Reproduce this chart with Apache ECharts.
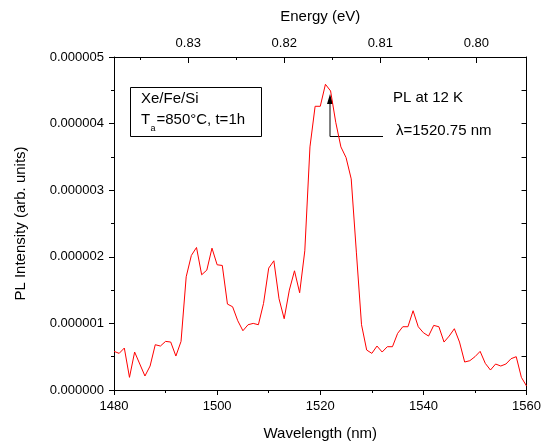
<!DOCTYPE html>
<html>
<head>
<meta charset="utf-8">
<script src="https://cdn.jsdelivr.net/npm/echarts@6/dist/echarts.min.js"></script>
<style>html,body{margin:0;padding:0;background:#fff}#c{width:544px;height:446px}</style>
</head>
<body>
<div id="c"></div>
<script>
const wavelengths = [];
for (let w = 1480; w <= 1560; w++) wavelengths.push(w);
const intensity = [
  0.58e-6, 0.55e-6, 0.63e-6, 0.19e-6, 0.57e-6, 0.39e-6, 0.21e-6, 0.36e-6, 0.68e-6, 0.66e-6,
  0.73e-6, 0.72e-6, 0.51e-6, 0.73e-6, 1.70e-6, 2.02e-6, 2.14e-6, 1.73e-6, 1.80e-6, 2.13e-6,
  1.88e-6, 1.87e-6, 1.29e-6, 1.25e-6, 1.04e-6, 0.89e-6, 0.98e-6, 1.00e-6, 0.98e-6, 1.30e-6,
  1.83e-6, 1.94e-6, 1.37e-6, 1.07e-6, 1.50e-6, 1.79e-6, 1.46e-6, 2.09e-6, 3.65e-6, 4.26e-6,
  4.26e-6, 4.59e-6, 4.49e-6, 4.02e-6, 3.65e-6, 3.49e-6, 3.17e-6, 2.07e-6, 0.98e-6, 0.60e-6,
  0.55e-6, 0.66e-6, 0.57e-6, 0.65e-6, 0.65e-6, 0.85e-6, 0.95e-6, 0.95e-6, 1.19e-6, 0.95e-6,
  0.86e-6, 0.81e-6, 0.97e-6, 0.95e-6, 0.72e-6, 0.81e-6, 0.92e-6, 0.72e-6, 0.42e-6, 0.44e-6,
  0.50e-6, 0.58e-6, 0.40e-6, 0.30e-6, 0.39e-6, 0.36e-6, 0.39e-6, 0.47e-6, 0.50e-6, 0.19e-6,
  0.06e-6
];
const energyMajorTicks = [0.83, 0.82, 0.81, 0.80];
const energyMinorTicks = [0.835, 0.825, 0.815, 0.805];
const HC = 1239.84;
const energyMin = HC / 1560;
const energyMax = HC / 1480;

const FONT = '"Liberation Sans", Arial, sans-serif';
const black = '#000';
const chart = echarts.init(document.getElementById('c'), null, {renderer: 'canvas'});
const lineStyle = {color: black, width: 1};

const annotations = [
  {type: 'rect', shape: {x: 130.5, y: 87.5, width: 131, height: 49},
    style: {fill: 'none', stroke: black, lineWidth: 1}},
  {type: 'text', x: 141, y: 99, style: {text: 'Xe/Fe/Si', font: '15px ' + FONT, fill: black, textVerticalAlign: 'middle'}},
  {type: 'text', x: 141, y: 120, style: {text: 'T', font: '15px ' + FONT, fill: black, textVerticalAlign: 'middle'}},
  {type: 'text', x: 150.5, y: 129, style: {text: 'a', font: '9px ' + FONT, fill: black, textVerticalAlign: 'middle'}},
  {type: 'text', x: 156.5, y: 120, style: {text: '=850°C, t=1h', font: '15px ' + FONT, fill: black, textVerticalAlign: 'middle'}},
  {type: 'text', x: 393, y: 98, style: {text: 'PL at 12 K', font: '15px ' + FONT, fill: black, textVerticalAlign: 'middle'}},
  {type: 'text', x: 396, y: 131, style: {text: 'λ=1520.75 nm', font: '15px ' + FONT, fill: black, textVerticalAlign: 'middle'}},
  {type: 'polyline', shape: {points: [[330, 103], [330, 136.5], [383, 136.5]]},
    style: {stroke: black, lineWidth: 1, fill: 'none'}},
  {type: 'polygon', shape: {points: [[330, 94], [327, 104], [333, 104]]},
    style: {fill: black, stroke: 'none'}}
];

chart.setOption({
  animation: false,
  backgroundColor: '#fff',
  grid: {left: 114, right: 14, top: 57, bottom: 52, containLabel: false},
  xAxis: [
    {
      type: 'value', position: 'bottom', min: 1480, max: 1560, interval: 20,
      name: 'Wavelength (nm)', nameLocation: 'middle', nameGap: 36,
      nameTextStyle: {fontFamily: FONT, fontSize: 15, color: black},
      axisLine: {show: true, onZero: false, lineStyle},
      axisTick: {show: true, inside: false, length: 5, lineStyle},
      minorTick: {show: true, splitNumber: 2, length: 3, lineStyle},
      axisLabel: {fontFamily: FONT, fontSize: 13, color: black, margin: 10,
        formatter: v => String(v)},
      splitLine: {show: false}
    },
    {
      type: 'value', position: 'top', min: energyMin, max: energyMax, inverse: true,
      name: 'Energy (eV)', nameLocation: 'middle', nameGap: 33,
      nameTextStyle: {fontFamily: FONT, fontSize: 15, color: black},
      axisLine: {show: true, onZero: false, lineStyle},
      axisTick: {show: false},
      axisLabel: {fontFamily: FONT, fontSize: 13, color: black, margin: 7,
        customValues: energyMajorTicks, formatter: v => v.toFixed(2)},
      splitLine: {show: false}
    }
  ],
  yAxis: [
    {
      type: 'value', position: 'left', min: 0, max: 5e-6, interval: 1e-6,
      name: 'PL Intensity (arb. units)', nameLocation: 'middle', nameGap: 86, nameRotate: 90,
      nameTextStyle: {fontFamily: FONT, fontSize: 15, color: black},
      axisLine: {show: true, onZero: false, lineStyle},
      axisTick: {show: true, inside: false, length: 5, lineStyle},
      minorTick: {show: true, splitNumber: 2, length: 3, lineStyle},
      axisLabel: {fontFamily: FONT, fontSize: 13, color: black, margin: 10,
        formatter: v => v.toFixed(6)},
      splitLine: {show: false}
    },
    {
      type: 'value', position: 'right', min: 0, max: 5e-6, interval: 0.5e-6,
      axisLine: {show: true, onZero: false, lineStyle},
      axisTick: {show: true, inside: true, length: 5, lineStyle},
      axisLabel: {show: false},
      splitLine: {show: false}
    }
  ],
  series: [{
    type: 'line',
    xAxisIndex: 0, yAxisIndex: 0,
    data: wavelengths.map((w, i) => [w, intensity[i]]),
    showSymbol: false, symbol: 'none',
    lineStyle: {color: '#ff0000', width: 1},
    itemStyle: {color: '#ff0000'}
  }],
  graphic: annotations
});

// top-axis tick marks placed through the energy axis scale (pointing inward)
const topY = chart.convertToPixel({yAxisIndex: 0}, 5e-6);
const tickEls = [];
energyMajorTicks.forEach(e => {
  const x = Math.round(chart.convertToPixel({xAxisIndex: 1}, e)) + 0.5;
  tickEls.push({type: 'line', shape: {x1: x, y1: topY, x2: x, y2: topY + 6}, style: {stroke: black, lineWidth: 1}});
});
energyMinorTicks.forEach(e => {
  const x = Math.round(chart.convertToPixel({xAxisIndex: 1}, e)) + 0.5;
  tickEls.push({type: 'line', shape: {x1: x, y1: topY, x2: x, y2: topY + 3}, style: {stroke: black, lineWidth: 1}});
});
chart.setOption({graphic: annotations.concat(tickEls)});
</script>
</body>
</html>
